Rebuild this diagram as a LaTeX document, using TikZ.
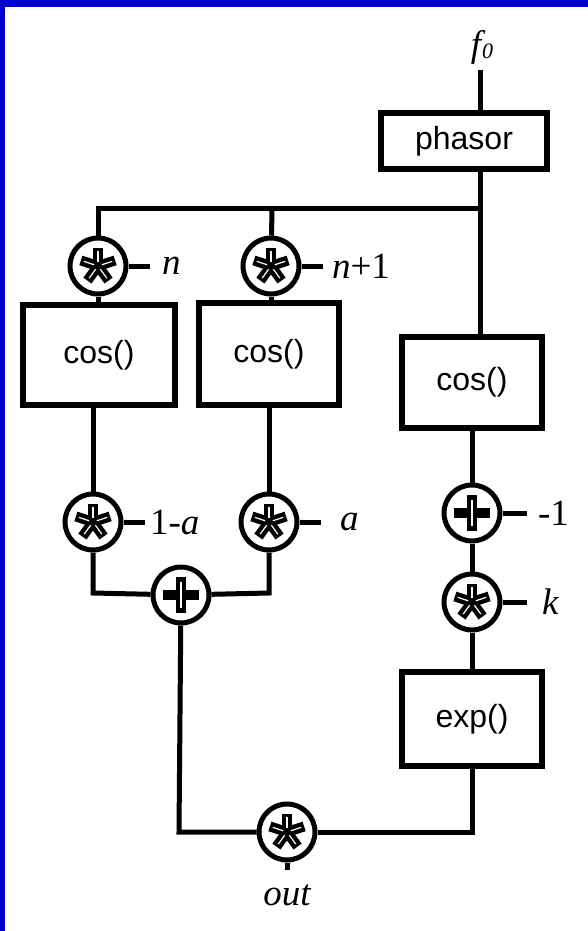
\documentclass[tikz,border=0pt]{standalone}
\usepackage{fontspec}
\setmainfont{Liberation Serif}
\setsansfont{Liberation Sans}
\definecolor{frameblue}{RGB}{0,0,204}
\tikzset{
  wire/.style={line width=5pt, line join=miter},
  blk/.style={draw, line width=6pt, rectangle, inner sep=0pt, font=\sffamily\fontsize{32}{32}\selectfont},
  opbase/.style={circle, draw, line width=5pt, minimum size=56pt, inner sep=0pt, fill=white},
  mult/.style={opbase, path picture={
      \foreach \a in {90,162,234,306,18}
        \draw[line width=10pt] (path picture bounding box.center) -- ++(\a:18pt);
      \foreach \a in {90,162,234,306,18}
        \draw[white, line width=1.2pt] (path picture bounding box.center) ++(\a:4pt) -- ++(\a:11pt);
    }},
  addop/.style={opbase, path picture={
      \draw[line width=10pt] (path picture bounding box.center) ++(-18pt,0) -- ++(36pt,0);
      \draw[line width=10pt] (path picture bounding box.center) ++(0,-18pt) -- ++(0,36pt);
      \draw[white, line width=1.2pt] (path picture bounding box.center) ++(0,-13pt) -- ++(0,26pt);
    }},
  lab/.style={font=\fontsize{37}{37}\selectfont, inner sep=0pt, anchor=west},
}
\begin{document}
\begin{tikzpicture}[x=1pt,y=-1pt]
\useasboundingbox (0,0) rectangle (588,931);
\fill[white] (0,0) rectangle (588,931);
\fill[frameblue] (0,0) rectangle (588,7);
\fill[frameblue] (0,0) rectangle (5,931);

% nodes
\node[font=\fontsize{37}{37}\selectfont\itshape, inner sep=0pt] (f0) at (482,47) {f\kern1pt\raisebox{-2pt}{\fontsize{22}{22}\selectfont 0}};
\coordinate (fin) at (480,70);
\node[blk, minimum width=166pt, minimum height=56pt] (phasor) at (464,141) {phasor};
\coordinate (busR) at (480,208);
\coordinate (busL) at (98,208);
\coordinate (busM) at (272,208);

\node[mult] (mn) at (98,266) {};
\node[mult] (mn1) at (271,266) {};

\node[blk, minimum width=152pt, minimum height=100pt] (cosL) at (99,355) {cos()};
\node[blk, minimum width=140pt, minimum height=102pt] (cosM) at (269,354) {cos()};
\node[blk, minimum width=140pt, minimum height=91pt] (cosR) at (472,382) {cos()};

\node[mult] (m1a) at (93,522) {};
\node[mult] (ma) at (269,522) {};
\node[addop] (addL) at (181,595) {};
\coordinate (jL) at (93,593);
\coordinate (jM) at (269,593);

\node[addop] (addR) at (472,513) {};
\node[mult] (mk) at (472,602) {};
\node[blk, minimum width=140pt, minimum height=94pt] (expb) at (472,719) {exp()};

\node[mult] (mout) at (287,832) {};
\coordinate (cL) at (179,832);
\coordinate (cR) at (472,832);
\coordinate (outend) at (287,870);
\node[font=\fontsize{37}{37}\selectfont\itshape, inner sep=0pt] (outl) at (287,895) {out};

% wires
\draw[wire] (fin) -- (fin |- phasor.north);
\draw[wire] (busR |- phasor.south) -- (busR |- cosR.north);
\draw[wire] (busL |- mn.north) -- (busL) -- (busR);
\draw[wire] (busM) -- (mn1);
\draw[wire] (mn) -- (mn |- cosL.north);
\draw[wire] (mn1) -- (mn1 |- cosM.north);
\draw[wire] (m1a |- cosL.south) -- (m1a);
\draw[wire] (ma |- cosM.south) -- (ma);
\draw[wire] (m1a) -- (jL) -- (addL);
\draw[wire] (ma) -- (jM) -- (addL);
\draw[wire] (addR |- cosR.south) -- (addR);
\draw[wire] (addR) -- (mk);
\draw[wire] (mk) -- (expb);
\draw[wire] (addL) -- (cL) -- (mout);
\draw[wire] (expb) -- (cR) -- (mout);
\draw[wire] (mout) -- (outend);

% side inputs
\draw[wire] (mn.east) -- ++(21,0) node[lab, right=10pt] {\itshape n};
\draw[wire] (mn1.east) -- ++(21,0) node[lab, right=7pt] {\itshape n\upshape +1};
\draw[wire] (m1a.east) -- ++(21,0) node[lab, right=3pt] {1-\itshape a};
\draw[wire] (ma.east) -- ++(21,0) node[lab, right=17pt] {\itshape a};
\draw[wire] (addR.east) -- ++(24,0) node[lab, right=9pt] {-1};
\draw[wire] (mk.east) -- ++(24,0) node[lab, right=13pt] {\itshape k};
\end{tikzpicture}
\end{document}
